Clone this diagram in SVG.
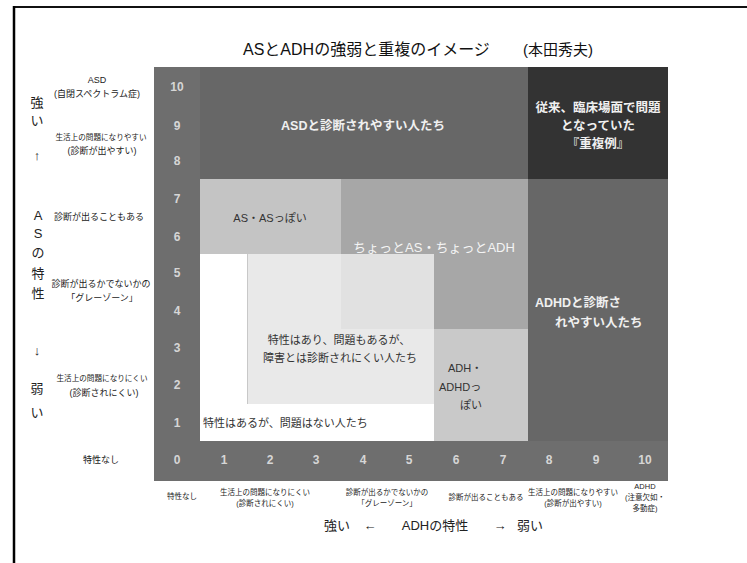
<svg xmlns="http://www.w3.org/2000/svg" width="747" height="563" viewBox="0 0 747 563">
<style>
text{font-family:"Liberation Sans","Noto Sans CJK JP",sans-serif;}
.num{font-size:12px;font-weight:bold;fill:#d6d6d6;text-anchor:middle;}
.lab{font-size:9px;fill:#222;text-anchor:middle;}
.sm{font-size:7.6px;fill:#222;text-anchor:middle;}
.bl{font-size:7.5px;fill:#222;text-anchor:middle;}
.side{font-size:13px;fill:#222;text-anchor:middle;}
.wt{font-size:12.5px;fill:#f0f0f0;font-weight:bold;}
.wn{font-size:13px;fill:#f4f4f4;}
.dk{font-size:11px;fill:#333;}
</style>
<rect width="747" height="563" fill="#fff"/>
<g id="frame">
<line x1="13" y1="7" x2="747" y2="7" stroke="#111" stroke-width="2"/>
<line x1="14" y1="6" x2="14" y2="563" stroke="#000" stroke-width="2.5"/>
</g>
<g id="title">
<text x="243" y="55" font-size="16" fill="#111">ASとADHの強弱と重複のイメージ</text>
<text x="523" y="55" font-size="15" fill="#111">(本田秀夫)</text>
</g>
<g id="chart-bg">
<rect x="154" y="67" width="514" height="414" fill="#6e6e6e"/>
</g>
<g id="asd-region">
<rect x="200" y="67" width="328" height="112" fill="#676767"/>
<text class="wt" x="363" y="130" text-anchor="middle">ASDと診断されやすい人たち</text>
</g>
<g id="overlap-region">
<rect x="528" y="67" width="140" height="112" fill="#333"/>
<text class="wt" x="598" y="112" text-anchor="middle">従来、臨床場面で問題</text>
<text class="wt" x="598" y="130" text-anchor="middle">となっていた</text>
<text class="wt" x="598" y="148" text-anchor="middle">『重複例』</text>
</g>
<g id="adhd-region">
<rect x="528" y="179" width="140" height="262" fill="#676767"/>
<text class="wt" x="535" y="307">ADHDと診断さ</text>
<text class="wt" x="555" y="327">れやすい人たち</text>
</g>
<g id="as-like">
<rect x="200" y="179" width="141" height="75" fill="#c4c4c4"/>
<text class="dk" x="270" y="222" text-anchor="middle">AS・ASっぽい</text>
</g>
<g id="slight">
<rect x="341" y="179" width="187" height="150" fill="#a7a7a7"/>
<text class="wn" x="434" y="252" text-anchor="middle">ちょっとAS・ちょっとADH</text>
</g>
<g id="adh-like">
<rect x="434" y="329" width="94" height="112" fill="#c9c9c9"/>
<text class="dk" x="448" y="372" font-size="11.5">ADH・</text>
<text class="dk" x="439" y="391" font-size="11.5">ADHDっ</text>
<text class="dk" x="460" y="409" font-size="11.5">ぽい</text>
</g>
<g id="no-problem">
<rect x="200" y="254" width="234" height="187" fill="#fff"/>
<text class="dk" x="203" y="427" fill="#111">特性はあるが、問題はない人たち</text>
</g>
<g id="grey-zone">
<rect x="247" y="254" width="187" height="150" fill="#e9e9e9"/>
<rect x="341" y="254" width="93" height="75" fill="#e1e1e1"/>
<line x1="247.5" y1="254" x2="247.5" y2="404" stroke="#c8c8c8" stroke-width="1"/>
<text class="dk" x="339" y="344" text-anchor="middle">特性はあり、問題もあるが、</text>
<text class="dk" x="340" y="362" text-anchor="middle">障害とは診断されにくい人たち</text>
</g>
<g id="y-numbers">
<text class="num" x="177" y="91">10</text>
<text class="num" x="177" y="130">9</text>
<text class="num" x="177" y="165">8</text>
<text class="num" x="177" y="203">7</text>
<text class="num" x="177" y="241">6</text>
<text class="num" x="177" y="277">5</text>
<text class="num" x="177" y="315">4</text>
<text class="num" x="177" y="352">3</text>
<text class="num" x="177" y="389">2</text>
<text class="num" x="177" y="427">1</text>
<text class="num" x="177" y="464">0</text>
</g>
<g id="x-numbers">
<text class="num" x="224" y="464">1</text>
<text class="num" x="270" y="464">2</text>
<text class="num" x="316" y="464">3</text>
<text class="num" x="363" y="464">4</text>
<text class="num" x="409" y="464">5</text>
<text class="num" x="456" y="464">6</text>
<text class="num" x="503" y="464">7</text>
<text class="num" x="549" y="464">8</text>
<text class="num" x="596" y="464">9</text>
<text class="num" x="645" y="464">10</text>
</g>
<g id="y-axis-title">
<text class="side" x="37" y="107">強</text>
<text class="side" x="37" y="125">い</text>
<text class="side" x="37" y="160">↑</text>
<text class="side" x="38" y="220">A</text>
<text class="side" x="38" y="238">S</text>
<text class="side" x="38" y="257">の</text>
<text class="side" x="38" y="278">特</text>
<text class="side" x="38" y="298">性</text>
<text class="side" x="37" y="355">↓</text>
<text class="side" x="37" y="393">弱</text>
<text class="side" x="37" y="417">い</text>
</g>
<g id="y-labels">
<text class="lab" x="97" y="83">ASD</text>
<text class="lab" x="97" y="97">(自閉スペクトラム症)</text>
<text class="sm" x="101" y="140">生活上の問題になりやすい</text>
<text class="lab" x="102" y="154">(診断が出やすい)</text>
<text class="lab" x="99" y="220">診断が出ることもある</text>
<text class="lab" x="101" y="287">診断が出るかでないかの</text>
<text class="lab" x="102" y="301">「グレーゾーン」</text>
<text class="sm" x="102" y="381">生活上の問題になりにくい</text>
<text class="lab" x="104" y="396">(診断されにくい)</text>
<text class="lab" x="101" y="463">特性なし</text>
</g>
<g id="x-labels">
<text class="bl" x="182" y="499" font-size="8">特性なし</text>
<text class="bl" x="265" y="495">生活上の問題になりにくい</text>
<text class="bl" x="265" y="506">(診断されにくい)</text>
<text class="bl" x="387" y="495">診断が出るかでないかの</text>
<text class="bl" x="387" y="506">「グレーゾーン」</text>
<text class="bl" x="486" y="500" font-size="7">診断が出ることもある</text>
<text class="bl" x="573" y="495">生活上の問題になりやすい</text>
<text class="bl" x="573" y="506">(診断が出やすい)</text>
<text class="bl" x="645" y="489">ADHD</text>
<text class="bl" x="645" y="500">(注意欠如・</text>
<text class="bl" x="645" y="511">多動症)</text>
</g>
<g id="x-axis-title">
<text class="side" x="337" y="530">強い</text>
<text class="side" x="370" y="530">←</text>
<text class="side" x="435" y="530">ADHの特性</text>
<text class="side" x="500" y="530">→</text>
<text class="side" x="530" y="530">弱い</text>
</g>
</svg>
